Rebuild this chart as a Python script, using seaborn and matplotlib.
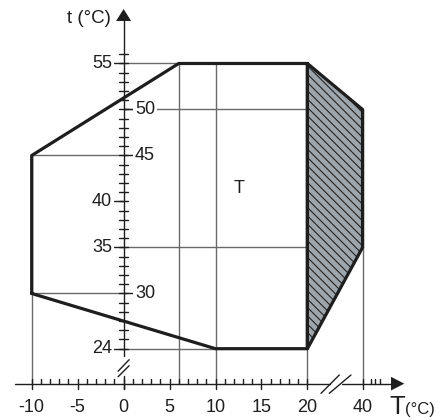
import matplotlib
matplotlib.use("Agg")
import matplotlib.pyplot as plt
import seaborn as sns
import pandas as pd

# operating envelope: outdoor T (x) vs water t (y)
env_T = [-10, -10, 6, 20, 20, 10, -10]
env_t = [30, 45, 55, 55, 24, 24, 30]

# hatched extension zone
ext_T = [20, 40, 40, 20, 20]
ext_t = [55, 50, 35, 24, 55]

x_major = [-10, -5, 0, 5, 10, 15, 20, 40]
x_minor = [v for v in range(-9, 20) if v % 5 != 0]
y_major = [24, 30, 35, 40, 45, 50, 55]
y_side = ["left", "right", "left", "left", "right", "right", "left"]
y_minor = [v for v in range(25, 57) if v not in y_major]

# thin guide lines (T1, t1, T2, t2); vertical ones run down to the x axis
guides_h = [(0, 55, 6, 55), (0, 50, 40, 50), (-10, 45, 0, 45),
            (0, 35, 40, 35), (-10, 30, 0, 30), (0, 24, 10, 24)]
guides_v = [(-10, 45), (6, 55), (10, 55), (20, 55), (40, 50)]

# layout
AX_Y = 20.2          # where the T axis crosses (y is broken below 24)
FS = 13
INK = "#1e1e1e"
GRID = "#6a6a6a"


def pos(T):
    # broken T axis: 20..40 squeezed
    return T if T <= 20 else 20 + (T - 20) * 0.3


sns.set_style("white")
plt.rcParams["font.family"] = ["Liberation Sans", "DejaVu Sans"]
plt.rcParams["hatch.linewidth"] = 0.8

fig = plt.figure(figsize=(4.47, 4.2), dpi=100)
ax = fig.add_axes([0, 0, 1, 1])

# hatched zone
ax.fill([pos(v) for v in ext_T], ext_t, facecolor="#9ea6ad", edgecolor="#222222",
        hatch="\\\\\\\\", linewidth=0, zorder=2)

# guide lines
for T1, t1, T2, t2 in guides_h:
    ax.plot([pos(T1), pos(T2)], [t1, t2], color=GRID, lw=1.0, zorder=1)
for T, t in guides_v:
    ax.plot([pos(T), pos(T)], [t, AX_Y], color=GRID, lw=1.0, zorder=1)

# envelope outlines
env = pd.DataFrame({"x": [pos(v) for v in env_T], "y": env_t})
sns.lineplot(data=env, x="x", y="y", sort=False, estimator=None, color=INK,
             lw=2.3, ax=ax, zorder=4)
ext = pd.DataFrame({"x": [pos(v) for v in ext_T], "y": ext_t})
sns.lineplot(data=ext, x="x", y="y", sort=False, estimator=None, color=INK,
             lw=2.3, ax=ax, zorder=4)
ax.set_xlim(-13.45, 35.19)
ax.set_ylim(16.25, 61.9)
ax.axis("off")

# T axis with break
ax.plot([-11.8, 22.46], [AX_Y, AX_Y], color=INK, lw=1.0, zorder=3)
ax.plot([23.76, 29.2], [AX_Y, AX_Y], color=INK, lw=1.0, zorder=3)
ax.fill([29.1, 30.54, 29.1], [AX_Y + 0.74, AX_Y, AX_Y - 0.74], color=INK, lw=0, zorder=3)
for x0, x1 in [(21.48, 23.47), (22.38, 24.74)]:
    ax.plot([x0, x1], [19.15, 21.14], color=INK, lw=1.0, zorder=3)

# t axis with break
ax.plot([0, 0], [AX_Y - 0.55, 21.0], color=INK, lw=1.0, zorder=3)
ax.plot([0, 0], [23.2, 59.7], color=INK, lw=1.0, zorder=3)
ax.fill([-0.82, 0, 0.82], [59.62, 60.92, 59.62], color=INK, lw=0, zorder=3)
for y0, y1 in [(21.55, 22.8), (20.95, 22.15)]:
    ax.plot([-0.6, 0.6], [y0, y1], color=INK, lw=1.0, zorder=3)

# T ticks
for v in x_minor:
    ax.plot([v, v], [AX_Y, AX_Y + 0.55], color=INK, lw=1.0, zorder=3)
for off in [0.9, 1.4, 1.9]:
    ax.plot([26 + off, 26 + off], [AX_Y, AX_Y + 0.55], color=INK, lw=1.0, zorder=3)
for v in x_major:
    ax.plot([pos(v), pos(v)], [AX_Y - 0.55, AX_Y + 0.55], color=INK, lw=1.0, zorder=3)
    ax.text(pos(v), AX_Y - 2.6, str(v), ha="center", va="center", fontsize=FS, color=INK)

# t ticks
for v in y_minor:
    ax.plot([-0.5, 0.5], [v, v], color=INK, lw=1.0, zorder=3)
for v, side in zip(y_major, y_side):
    sgn = -1 if side == "left" else 1
    ax.plot([0, sgn * 1.0], [v, v], color=INK, lw=1.0, zorder=3)
    ax.plot([-0.5, 0.5], [v, v], color=INK, lw=1.0, zorder=3)
    ax.text(sgn * 1.25, v, str(v), ha="right" if side == "left" else "left",
            va="center", fontsize=FS, color=INK, zorder=5,
            bbox=dict(facecolor="white", edgecolor="none", pad=1.5))

# labels
ax.text(-1.4, 59.9, "t (°C)", ha="right", va="center", fontsize=13.5, color=INK)
ax.text(28.9, 16.85, "T", ha="left", va="baseline", fontsize=18.5, color=INK)
ax.text(30.6, 16.85, "(°C)", ha="left", va="baseline", fontsize=12, color=INK)
ax.text(12.6, 41.4, "T", ha="center", va="center", fontsize=FS, color=INK)

fig.savefig("out.png", dpi=100)
